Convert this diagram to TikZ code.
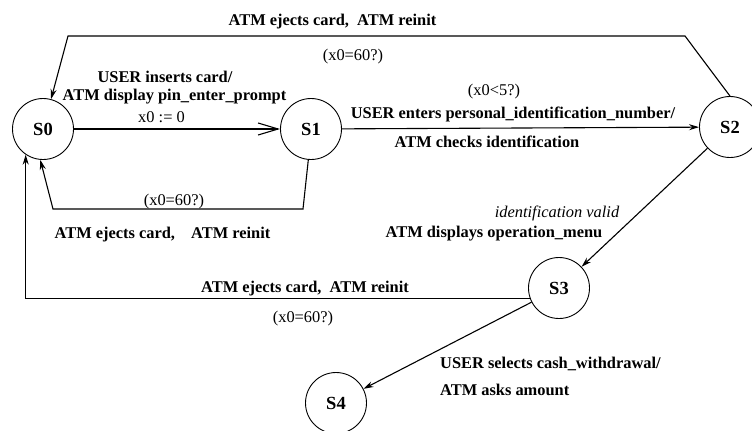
\documentclass[tikz,border=0pt]{standalone}
\usepackage{fontspec}
\setmainfont{Liberation Serif}
\usetikzlibrary{arrows.meta}
\begin{document}
\begin{tikzpicture}[x=1bp,y=-1bp,
  stnode/.style={draw,circle,minimum size=61bp,inner sep=0pt,line width=0.9bp,
    font=\fontsize{18.5bp}{20bp}\selectfont\bfseries},
  lbl/.style={inner sep=0pt,text height=10.9bp,text depth=0pt,
    font=\fontsize{16.4bp}{18bp}\selectfont\bfseries},
  guard/.style={lbl,font=\fontsize{16.4bp}{18bp}\selectfont},
  cond/.style={lbl,font=\fontsize{16.4bp}{18bp}\selectfont\itshape},
  trans/.style={line width=1.1bp,-{Stealth[length=10bp,width=6bp]}},
  opentrans/.style={line width=1.1bp,-{Straight Barb[length=20bp,width=12bp,line width=1.1bp]}}
]
\useasboundingbox (0,0) rectangle (752,430);
\fill[white] (0,0) rectangle (752,430);

% states
\node[stnode] (S0) at (43,129) {S0};
\node[stnode] (S1) at (311,129) {S1};
\node[stnode] (S2) at (730,127) {S2};
\node[stnode] (S3) at (559,288) {S3};
\node[stnode] (S4) at (336,403) {S4};

% bend points of the reset loops
\coordinate (t1) at (685,36);
\coordinate (t2) at (68,36);
\coordinate (b1) at (303,209);
\coordinate (b2) at (53,209);

% transitions
\draw[opentrans] (S0) -- (S1);
\draw[trans] (S1) -- (S2);
\draw[trans] (S2.north) -- (t1) -- (t2) -- (S0);
\draw[trans] (S1.265) -- (b1) -- (b2) -- (S0.265);
\draw[trans] (S2) -- (S3);
\draw[trans] (S3.199) -| (S0.236);
\draw[trans] (S3) -- (S4);

% labels
\node[lbl] (l1) at (332.5,20) {ATM ejects card,\hspace{4bp} ATM reinit};
\node[guard] (g1) at (353,55) {(x0=60?)};
\node[lbl] (l2) at (165,77) {USER inserts card/};
\node[lbl] (l3) at (174.5,95) {ATM display pin\_enter\_prompt};
\node[guard] (g2) at (161.5,117) {x0 := 0};
\node[guard] (g3) at (174,200) {(x0=60?)};
\node[lbl] (l4) at (162.5,233) {ATM ejects card,\hspace{12bp} ATM reinit};
\node[guard] (g4) at (494,90) {(x0<5?)};
\node[lbl] (l5) at (513,113) {USER enters personal\_identification\_number/};
\node[lbl] (l6) at (487,142) {ATM checks identification};
\node[cond] (c1) at (557,212) {identification valid};
\node[lbl] (l7) at (494,232) {ATM displays operation\_menu};
\node[lbl] (l8) at (305,287) {ATM ejects card,\hspace{4bp} ATM reinit};
\node[guard] (g5) at (303,317) {(x0=60?)};
\node[lbl,anchor=west] (l9) at (440,363) {USER selects cash\_withdrawal/};
\node[lbl,anchor=west] (l10) at (440,390) {ATM asks amount};
\end{tikzpicture}
\end{document}
